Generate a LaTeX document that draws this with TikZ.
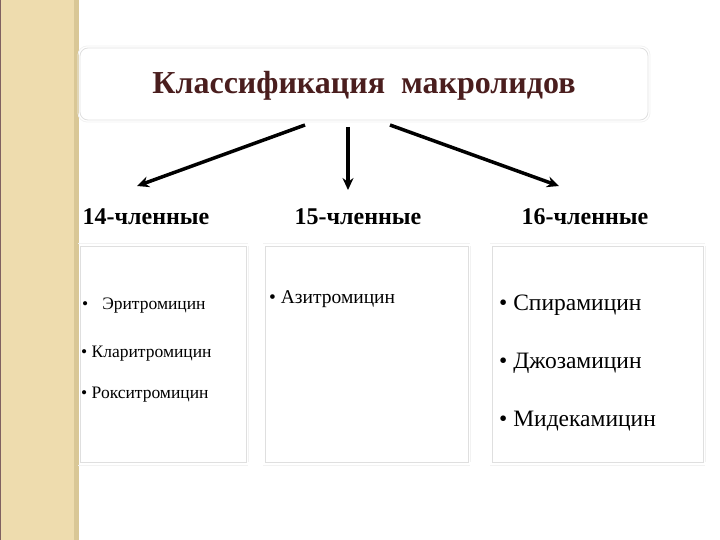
\documentclass[tikz,border=0pt]{standalone}
\usepackage{fontspec}
\setmainfont{Liberation Serif}
\usepackage{xcolor}
\usetikzlibrary{calc, arrows.meta}

\definecolor{stripTan}{HTML}{EEDCAE}
\definecolor{stripEdge}{HTML}{D9C796}
\definecolor{titleBrown}{HTML}{4A1E1E}

\begin{document}
\begin{tikzpicture}[x=1pt, y=-1pt,
		frame/.style={draw=gray!25, line width=0.8pt},
		shade/.style={draw=gray!10, line width=0.8pt},
		header/.style={font=\fontsize{24}{28}\selectfont\bfseries, anchor=base},
		drug/.style={anchor=base west, inner sep=0pt}]
			\def\boxTop{246};
			\def\boxBottom{462};

			\useasboundingbox (0,0) rectangle (720,540);

			\begin{scope}
				\fill [stripTan] (0,0) rectangle (79,540);
				\fill [stripEdge] (74,0) rectangle (79,540);
				\fill [titleBrown!70] (0,0) rectangle (1.2,540);
			\end{scope}

			\begin{scope}
				\draw [shade, rounded corners=9pt] (78,46) rectangle (650,122);
				\draw [frame, rounded corners=8pt] (80,48) rectangle (648,120);
				\node (title) [text=titleBrown, font=\fontsize{32}{36}\selectfont\bfseries, anchor=base] at (364,94) {Классификация\ \ макролидов};
			\end{scope}

			\begin{scope}
				\node (h14) [header] at (146,225) {14-членные};
				\node (h15) [header] at (358,225) {15-членные};
				\node (h16) [header] at (585,225) {16-членные};
			\end{scope}

			\newcommand{\drawColumnBox}[2]
			{
				\draw [shade] (#1-2,\boxTop-3) -- (#2+2,\boxTop-3);
				\draw [shade] (#1-2,\boxBottom+3) -- (#2+2,\boxBottom+3);
				\draw [shade] (#2+2,\boxTop) -- (#2+2,\boxBottom);
				\draw [frame] (#1,\boxTop) rectangle (#2,\boxBottom);
			}

			\drawColumnBox{80}{246};
			\drawColumnBox{265}{468};
			\drawColumnBox{492}{703};

			\begin{scope}[font=\fontsize{17.5}{20}\selectfont]
				\node (eryth) [drug] at (82,309) {•\hspace{14pt}Эритромицин};
				\node (clar) [drug] at (81,357) {• Кларитромицин};
				\node (roxi) [drug] at (81,398) {• Рокситромицин};
			\end{scope}

			\node (azi) [drug, font=\fontsize{19.5}{23}\selectfont] at (269,303) {• Азитромицин};

			\begin{scope}[font=\fontsize{23.5}{27}\selectfont]
				\node (spira) [drug] at (499,310) {• Спирамицин};
				\node (josa) [drug] at (499,368) {• Джозамицин};
				\node (mide) [drug] at (499,426) {• Мидекамицин};
			\end{scope}

			\coordinate (s14) at (305,125);
			\coordinate (s15) at (348,127);
			\coordinate (s16) at (390,125);
			\coordinate (e14) at (137,186);
			\coordinate (e15) at (348,190);
			\coordinate (e16) at (559,186);

			\begin{scope}[line width=3.5pt, -{Stealth[length=12pt, width=11pt]}]
				\draw (s14) -- (e14);
				\draw (s15) -- (e15);
				\draw (s16) -- (e16);
			\end{scope}
		\end{tikzpicture}
\end{document}
